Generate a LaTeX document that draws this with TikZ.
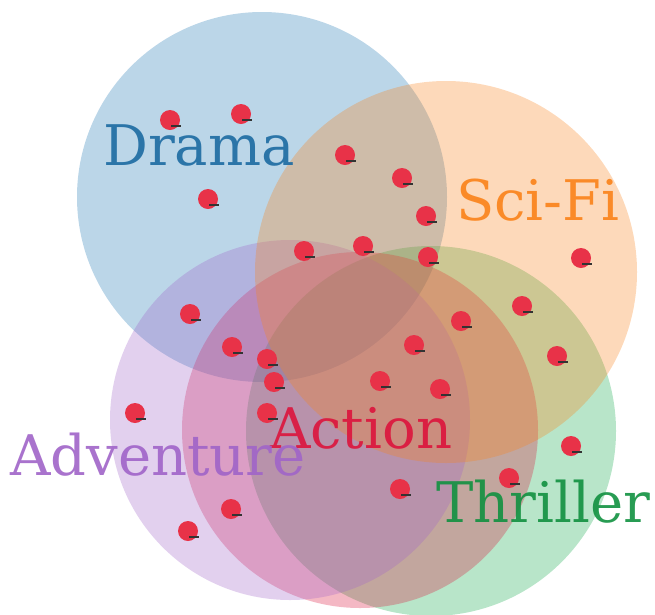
\documentclass[tikz,border=0pt]{standalone}
\usepackage{fontspec}
\setmainfont{DejaVu Serif}
\usepackage{tikz}

\definecolor{dramablue}{RGB}{31,119,180}
\definecolor{scifiorange}{RGB}{250,130,25}
\definecolor{thrillergreen}{RGB}{20,170,75}
\definecolor{actionred}{RGB}{220,20,60}
\definecolor{adventurepurple}{RGB}{160,100,200}
\definecolor{dotred}{RGB}{232,50,72}

\begin{document}
\begin{tikzpicture}[x=1pt,y=-1pt,
    genre/.style={fill opacity=0.3},
    genrename/.style={anchor=base west,inner sep=0pt,text opacity=0.9,
        font=\fontsize{56}{60}\selectfont},
    moviedot/.style={fill=dotred},
    moviebar/.style={draw=black!80,line width=2.2pt}]
    \useasboundingbox (0,0) rectangle (655,614);
    % the five genre sets
    \fill [genre,dramablue] (262,197) circle (185pt);
    \fill [genre,thrillergreen] (431,431) circle (185pt);
    \fill [genre,actionred] (360,430) circle (178pt);
    \fill [genre,adventurepurple] (290,420) circle (180pt);
    \fill [genre,scifiorange] (446,272) circle (191pt);
    % the films
    \foreach \x/\y in {170/120, 241/114, 345/155, 402/178, 208/199, 426/216,
        304/251, 363/246, 428/257, 581/258, 190/314, 522/306, 461/321,
        232/347, 267/359, 414/345, 557/356, 274/382, 380/381, 440/389,
        135/413, 267/413, 571/446, 509/478, 400/489, 231/509, 188/531}{
        \fill [moviedot] (\x,\y) circle (10pt);
        \draw [moviebar] (\x+1,\y+6) -- (\x+11,\y+6);
    }
    \node [genrename,dramablue!90!black] (drama) at (103,165) {Drama};
    \node [genrename,scifiorange] (scifi) at (456,220) {Sci-Fi};
    \node [genrename,actionred] (action) at (270,448) {Action};
    \node [genrename,adventurepurple] (adventure) at (10,475) {Adventure};
    \node [genrename,thrillergreen!85!black] (thriller) at (436,522) {Thriller};
\end{tikzpicture}
\end{document}
